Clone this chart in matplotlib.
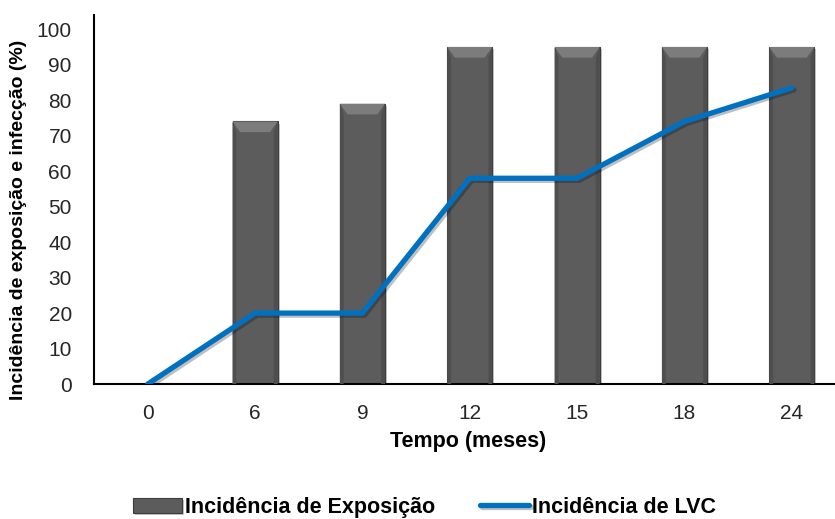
import matplotlib
matplotlib.use('Agg')
import matplotlib.pyplot as plt
import matplotlib.patheffects as pe
from matplotlib.patches import Polygon
import numpy as np

plt.rcParams['font.family'] = ['Liberation Sans', 'DejaVu Sans']

# Tempo (meses) e incidências (%)
meses = ['0', '6', '9', '12', '15', '18', '24']
exposicao = [0, 74, 79, 95, 95, 95, 95]
lvc = [0, 20, 20, 58, 58, 74, 83.5]

fig = plt.figure(figsize=(8.35, 5.19), dpi=100)
ax = fig.add_axes([0.1126, 0.26, 0.90, 0.711])

x = np.arange(len(meses))
width = 0.42
bars = ax.bar(x, exposicao, width=width, color='#5c5c5c', edgecolor='#3c3c3c',
              linewidth=0.8, zorder=2,
              path_effects=[pe.SimplePatchShadow(offset=(1.5, -1.5), alpha=0.25),
                            pe.Normal()])

# bevel on top of each bar
bev_h = 3.0
for rect in bars:
    h = rect.get_height()
    if h <= 0:
        continue
    x0 = rect.get_x()
    w = rect.get_width()
    inset = w * 0.17
    top = Polygon([(x0, h), (x0 + w, h), (x0 + w - inset, h - bev_h), (x0 + inset, h - bev_h)],
                  closed=True, facecolor='#7c7c7c', edgecolor='none', zorder=3)
    ax.add_patch(top)
    # darker side strips
    ax.add_patch(Polygon([(x0, h), (x0 + inset * 0.5, h - bev_h), (x0 + inset * 0.5, 0), (x0, 0)],
                         closed=True, facecolor='#4e4e4e', edgecolor='none', zorder=3))
    ax.add_patch(Polygon([(x0 + w, h), (x0 + w - inset * 0.5, h - bev_h), (x0 + w - inset * 0.5, 0), (x0 + w, 0)],
                         closed=True, facecolor='#4e4e4e', edgecolor='none', zorder=3))

line, = ax.plot(x, lvc, color='#0070C0', linewidth=3.8, solid_capstyle='round', zorder=4,
                path_effects=[pe.SimpleLineShadow(offset=(1.5, -1.5), alpha=0.25), pe.Normal()])

ax.set_xlim(-0.5, 6.5)
ax.set_ylim(0, 104)
ax.set_yticks(np.arange(0, 101, 10))
ax.set_xticks(x)
ax.set_xticklabels(meses)
ax.tick_params(axis='y', length=0, labelsize=15, colors='#262626', pad=16)
ax.tick_params(axis='x', length=0, labelsize=15, colors='#262626', pad=14)
for s in ['top', 'right']:
    ax.spines[s].set_visible(False)
for s in ['left', 'bottom']:
    ax.spines[s].set_color('black')
    ax.spines[s].set_linewidth(1.5)

ax.set_xlabel('Tempo (meses)', fontsize=15.5, fontweight='bold', va='center')
ax.xaxis.set_label_coords(0.498, -0.157)
ax.set_ylabel('Incidência de exposição e infecção (%)', fontsize=14, fontweight='bold', va='center')
ax.yaxis.set_label_coords(-0.1, 0.444)

fig.legend([bars, line], ['Incidência de Exposição', 'Incidência de LVC'],
           loc='lower center', bbox_to_anchor=(0.508, -0.035), ncol=2, frameon=False,
           prop={'weight': 'bold', 'size': 15.5}, handlelength=2.3,
           handletextpad=0.1, columnspacing=2.1)

fig.savefig('out.png', dpi=100)
